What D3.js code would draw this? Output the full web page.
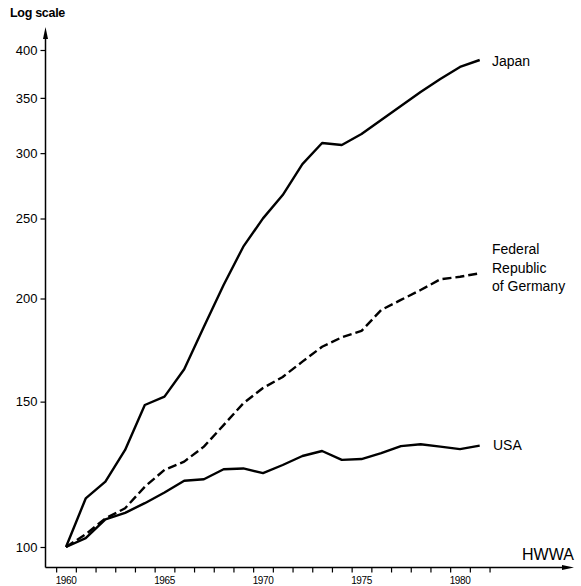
<!DOCTYPE html>
<html>
<head>
<meta charset="utf-8">
<script src="https://cdn.jsdelivr.net/npm/d3@7"></script>
<style>
  html, body { margin: 0; padding: 0; background: #fff; }
  svg text { font-family: "Liberation Sans", Arial, Helvetica, sans-serif; fill: #000; }
</style>
</head>
<body>
<svg id="chart" width="581" height="586"></svg>
<script>
// ---- data (index, 1960 = 100, log scale) ----
const years = d3.range(1960, 1982);
const japan = [100, 114.5, 120.0, 131.1, 148.6, 152.1, 164.2, 184.9, 207.7, 231.1, 250.1,
               266.9, 291.0, 308.6, 306.9, 316.4, 329.1, 342.1, 355.8, 368.9, 381.5, 389.0];
const germany = [100, 103.6, 108.3, 111.4, 118.3, 124.0, 126.9, 132.3, 140.5, 149.3, 155.8,
                 160.7, 167.7, 174.8, 179.5, 182.7, 193.7, 199.2, 204.8, 211.0, 212.5, 214.6];
const usa = [100, 102.5, 108.0, 110.0, 113.0, 116.4, 120.3, 120.8, 124.2, 124.5, 122.9,
             125.7, 128.9, 130.7, 127.5, 127.8, 129.9, 132.5, 133.2, 132.3, 131.4, 132.7];
const yTicks = [100, 150, 200, 250, 300, 350, 400];
const xLabels = [1960, 1965, 1970, 1975, 1980];
const seriesNames = ["Japan", "Federal\nRepublic\nof Germany", "USA"];

// ---- layout ----
const svg = d3.select("#chart");
const x = d3.scaleLinear().domain([1960, 1981]).range([66, 479.7]);
const y = d3.scaleLog().domain([100, 400]).range([547, 50]);
const axisX0 = 45.5, axisY0 = 567.5;

// y axis
const yAxis = d3.axisLeft(y).tickValues(yTicks).tickFormat(d3.format("d")).tickSize(5).tickPadding(3);
const gy = svg.append("g").attr("transform", `translate(${axisX0},0)`).call(yAxis);
gy.select(".domain").remove();
gy.selectAll(".tick line").attr("stroke", "#000").attr("stroke-width", 1.2);
gy.selectAll(".tick text").attr("font-size", 13).attr("fill", "#000")
  .style("font-family", "'Liberation Sans', Arial, sans-serif");
svg.append("line").attr("x1", axisX0).attr("x2", axisX0).attr("y1", axisY0).attr("y2", 34)
  .attr("stroke", "#000").attr("stroke-width", 1.5);
svg.append("path").attr("d", `M${axisX0},27 L${axisX0 - 2.5},39 L${axisX0 + 2.5},39 Z`).attr("fill", "#000");

// x axis
svg.append("line").attr("x1", axisX0).attr("x2", 566).attr("y1", axisY0).attr("y2", axisY0)
  .attr("stroke", "#000").attr("stroke-width", 1.5);
svg.append("path").attr("d", `M574,${axisY0} L562,${axisY0 - 2.5} L562,${axisY0 + 2.5} Z`).attr("fill", "#000");
const xAxis = d3.axisBottom(x).tickValues(d3.range(1959.5, 1982, 1)).tickSize(5).tickFormat("");
const gx = svg.append("g").attr("transform", `translate(0,${axisY0})`).call(xAxis);
gx.select(".domain").remove();
gx.selectAll(".tick line").attr("stroke", "#000").attr("stroke-width", 1.2);
svg.append("g").selectAll("text").data(xLabels).join("text")
  .attr("x", d => x(d)).attr("y", 584)
  .attr("text-anchor", "middle").attr("font-size", 10).attr("letter-spacing", -0.4)
  .style("font-family", "'Liberation Sans Narrow', 'Liberation Sans', Arial, sans-serif")
  .text(d => d);

// axis titles
svg.append("text").attr("x", 10).attr("y", 17).attr("font-size", 12.5).attr("font-weight", "bold")
  .attr("letter-spacing", -0.3).text("Log scale");
svg.append("text").attr("x", 522).attr("y", 560).attr("font-size", 16).text("HWWA");

// lines
const line = d3.line().x((d, i) => x(years[i])).y(d => y(d));
const series = [
  { values: japan, dash: null },
  { values: germany, dash: "9,4" },
  { values: usa, dash: null }
];
svg.append("g").selectAll("path").data(series).join("path")
  .attr("d", d => line(d.values))
  .attr("fill", "none").attr("stroke", "#000").attr("stroke-width", 2.4)
  .attr("stroke-linejoin", "round")
  .attr("stroke-dasharray", d => d.dash);

// series labels
const labelPos = [
  { x: 492, y: 66 },
  { x: 492, y: 254 },
  { x: 493, y: 450 }
];
seriesNames.forEach((name, i) => {
  const t = svg.append("text").attr("x", labelPos[i].x).attr("y", labelPos[i].y).attr("font-size", 14);
  name.split("\n").forEach((ln, j) => {
    t.append("tspan").attr("x", labelPos[i].x).attr("dy", j === 0 ? 0 : 18.5).text(ln);
  });
});
</script>
</body>
</html>
